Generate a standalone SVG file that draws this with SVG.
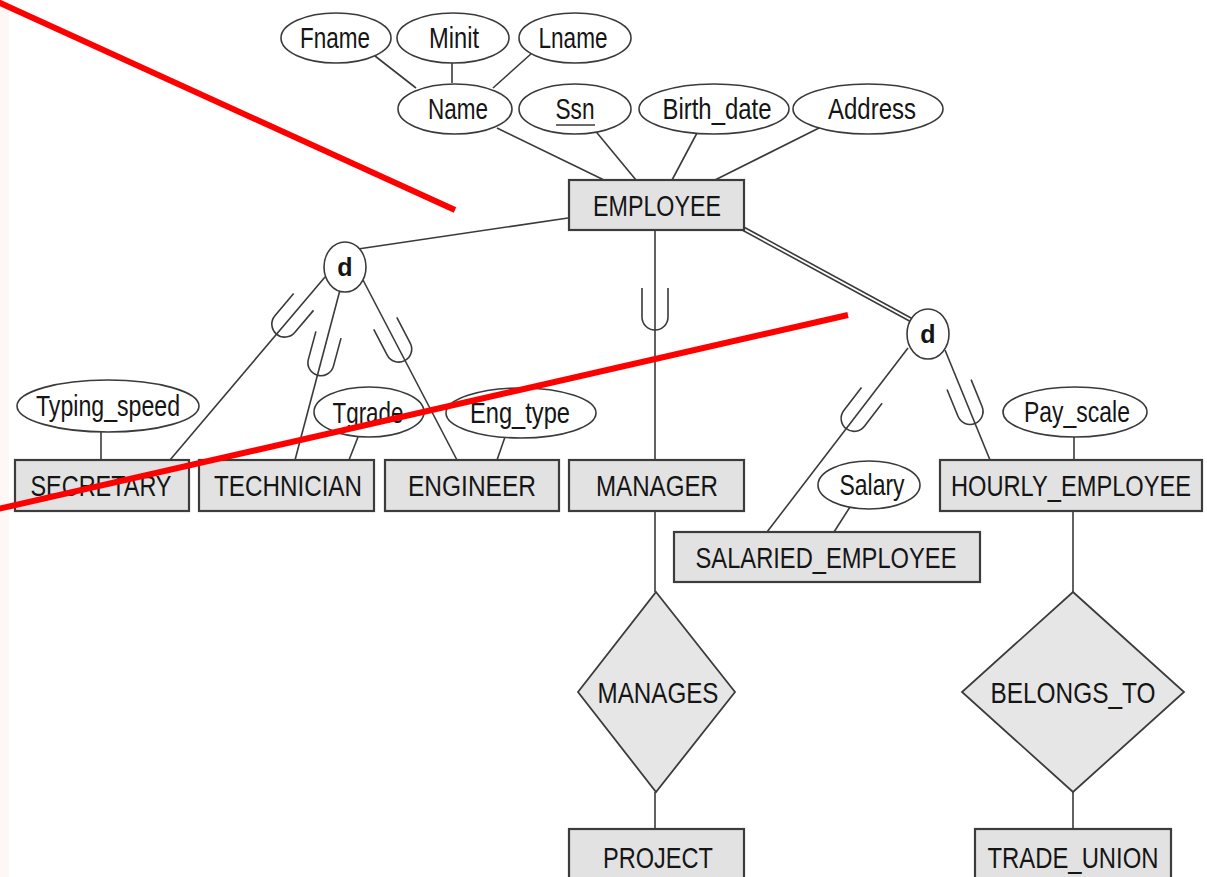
<svg xmlns="http://www.w3.org/2000/svg" xmlns:xlink="http://www.w3.org/1999/xlink" width="1207" height="877" viewBox="0 0 1207 877">
  <style>
    .bg { fill: #ffffff; }
    .edge { fill: #fdf7f5; }
    .ln { stroke: #3a3a3a; stroke-width: 1.6; fill: none; }
    .attr { fill: #ffffff; stroke: #3a3a3a; stroke-width: 1.6; }
    .ent { fill: #e2e2e2; stroke: #3c3c3c; stroke-width: 2.2; }
    .rel { fill: #e6e6e6; stroke: #3c3c3c; stroke-width: 1.8; }
    .circ { fill: #ffffff; stroke: #3a3a3a; stroke-width: 1.6; }
    .t { font-family: "Liberation Sans", Arial, sans-serif; font-size: 29px; fill: #151515; text-anchor: middle; }
    .d { font-family: "Liberation Sans", Arial, sans-serif; font-size: 25px; font-weight: bold; fill: #151515; text-anchor: middle; }
    .mark { stroke: #ff0000; stroke-width: 6; fill: none; }
  </style>
  <defs>
    <!-- subset symbol, opening toward the superclass (local -y) -->
    <path id="subset" d="M-13,-21 V8 A13,13 0 0 0 13,8 V-21" fill="none" stroke="#3a3a3a" stroke-width="1.6"/>
  </defs>

  <rect class="bg" x="0" y="0" width="1207" height="877"/>
  <rect class="edge" x="0" y="0" width="9" height="877"/>

  <!-- connectors -->
  <g id="connectors">
    <!-- composite attribute Name -->
    <line class="ln" x1="375" y1="56" x2="416" y2="88"/>
    <line class="ln" x1="452" y1="61" x2="452" y2="83"/>
    <line class="ln" x1="532" y1="53" x2="493" y2="88"/>
    <!-- EMPLOYEE attributes -->
    <line class="ln" x1="497" y1="128" x2="604" y2="180"/>
    <line class="ln" x1="593" y1="128" x2="636" y2="180"/>
    <line class="ln" x1="697" y1="133" x2="672" y2="180"/>
    <line class="ln" x1="821" y1="127" x2="715" y2="180"/>
    <!-- EMPLOYEE to left specialization -->
    <line class="ln" x1="568" y1="218" x2="358" y2="249"/>
    <!-- left specialization branches -->
    <line class="ln" x1="325" y1="277" x2="170" y2="460"/>
    <line class="ln" x1="340" y1="290" x2="295" y2="460"/>
    <line class="ln" x1="363" y1="280" x2="457" y2="460"/>
    <use xlink:href="#subset" transform="translate(290,318) rotate(40.3)"/>
    <use xlink:href="#subset" transform="translate(323,355) rotate(15.1)"/>
    <use xlink:href="#subset" transform="translate(395,342) rotate(-27.6)"/>
    <!-- MANAGER subclass -->
    <line class="ln" x1="655" y1="230" x2="655" y2="460"/>
    <use xlink:href="#subset" transform="translate(655,309)"/>
    <!-- total participation (double line) to right specialization -->
    <line x1="742" y1="228" x2="913" y2="321" stroke="#3a3a3a" stroke-width="5"/>
    <line x1="742" y1="228" x2="913" y2="321" stroke="#ffffff" stroke-width="1.8"/>
    <!-- right specialization branches -->
    <line class="ln" x1="908" y1="348" x2="767" y2="532"/>
    <line class="ln" x1="945" y1="350" x2="990" y2="460"/>
    <use xlink:href="#subset" transform="translate(859,412) rotate(37.5)"/>
    <use xlink:href="#subset" transform="translate(967,404) rotate(-22.2)"/>
    <!-- local attributes -->
    <line class="ln" x1="101" y1="432" x2="101" y2="460"/>
    <line class="ln" x1="358" y1="437" x2="349" y2="460"/>
    <line class="ln" x1="505" y1="437" x2="497" y2="460"/>
    <line class="ln" x1="1074" y1="437" x2="1074" y2="460"/>
    <line class="ln" x1="850" y1="507" x2="834" y2="532"/>
    <!-- relationships -->
    <line class="ln" x1="655" y1="511" x2="655" y2="592"/>
    <line class="ln" x1="655" y1="792" x2="655" y2="829"/>
    <line class="ln" x1="1073" y1="511" x2="1073" y2="592"/>
    <line class="ln" x1="1073" y1="792" x2="1073" y2="829"/>
  </g>

  <!-- attributes -->
  <g id="attr-fname"><ellipse class="attr" cx="336" cy="38" rx="55" ry="25"/><text class="t" x="335" y="48" textLength="70" lengthAdjust="spacingAndGlyphs">Fname</text></g>
  <g id="attr-minit"><ellipse class="attr" cx="453" cy="38" rx="56" ry="25"/><text class="t" x="454" y="48" textLength="50" lengthAdjust="spacingAndGlyphs">Minit</text></g>
  <g id="attr-lname"><ellipse class="attr" cx="575" cy="38" rx="56" ry="25"/><text class="t" x="573" y="48" textLength="69" lengthAdjust="spacingAndGlyphs">Lname</text></g>
  <g id="attr-name"><ellipse class="attr" cx="455" cy="109" rx="57" ry="25"/><text class="t" x="458" y="119" textLength="60" lengthAdjust="spacingAndGlyphs">Name</text></g>
  <g id="attr-ssn"><ellipse class="attr" cx="575" cy="109" rx="56" ry="25"/><text class="t" x="575" y="119" textLength="39" lengthAdjust="spacingAndGlyphs">Ssn</text><line class="ln" x1="556" y1="125" x2="595" y2="125"/></g>
  <g id="attr-birth"><ellipse class="attr" cx="714" cy="109" rx="75" ry="25"/><text class="t" x="717" y="119" textLength="109" lengthAdjust="spacingAndGlyphs">Birth_date</text></g>
  <g id="attr-address"><ellipse class="attr" cx="868" cy="109" rx="75" ry="25"/><text class="t" x="872" y="119" textLength="88" lengthAdjust="spacingAndGlyphs">Address</text></g>
  <g id="attr-typing"><ellipse class="attr" cx="108" cy="406" rx="91" ry="26"/><text class="t" x="108" y="416" textLength="144" lengthAdjust="spacingAndGlyphs">Typing_speed</text></g>
  <g id="attr-tgrade"><ellipse class="attr" cx="369" cy="412" rx="55" ry="25"/><text class="t" x="368" y="423" textLength="71" lengthAdjust="spacingAndGlyphs">Tgrade</text></g>
  <g id="attr-engtype"><ellipse class="attr" cx="521" cy="413" rx="75" ry="25"/><text class="t" x="520" y="423" textLength="100" lengthAdjust="spacingAndGlyphs">Eng_type</text></g>
  <g id="attr-payscale"><ellipse class="attr" cx="1075" cy="412" rx="72" ry="25"/><text class="t" x="1077" y="422" textLength="106" lengthAdjust="spacingAndGlyphs">Pay_scale</text></g>
  <g id="attr-salary"><ellipse class="attr" cx="869" cy="485" rx="51" ry="24"/><text class="t" x="872" y="495" textLength="65" lengthAdjust="spacingAndGlyphs">Salary</text></g>

  <!-- entities -->
  <g id="ent-employee"><rect class="ent" x="569" y="180" width="175" height="50"/><text class="t" x="657" y="216" textLength="128" lengthAdjust="spacingAndGlyphs">EMPLOYEE</text></g>
  <g id="ent-secretary"><rect class="ent" x="15" y="460" width="174" height="51"/><text class="t" x="101" y="496" textLength="141" lengthAdjust="spacingAndGlyphs">SECRETARY</text></g>
  <g id="ent-technician"><rect class="ent" x="199" y="460" width="175" height="51"/><text class="t" x="288" y="496" textLength="148" lengthAdjust="spacingAndGlyphs">TECHNICIAN</text></g>
  <g id="ent-engineer"><rect class="ent" x="385" y="460" width="174" height="51"/><text class="t" x="472" y="496" textLength="128" lengthAdjust="spacingAndGlyphs">ENGINEER</text></g>
  <g id="ent-manager"><rect class="ent" x="569" y="460" width="175" height="51"/><text class="t" x="657" y="496" textLength="122" lengthAdjust="spacingAndGlyphs">MANAGER</text></g>
  <g id="ent-hourly"><rect class="ent" x="940" y="460" width="262" height="51"/><text class="t" x="1071" y="496" textLength="240" lengthAdjust="spacingAndGlyphs">HOURLY_EMPLOYEE</text></g>
  <g id="ent-salaried"><rect class="ent" x="674" y="532" width="306" height="50"/><text class="t" x="826" y="568" textLength="261" lengthAdjust="spacingAndGlyphs">SALARIED_EMPLOYEE</text></g>
  <g id="ent-project"><rect class="ent" x="569" y="829" width="175" height="60"/><text class="t" x="658" y="868" textLength="110" lengthAdjust="spacingAndGlyphs">PROJECT</text></g>
  <g id="ent-tradeunion"><rect class="ent" x="975" y="829" width="196" height="60"/><text class="t" x="1073" y="868" textLength="171" lengthAdjust="spacingAndGlyphs">TRADE_UNION</text></g>

  <!-- relationships -->
  <g id="rel-manages"><polygon class="rel" points="656,592 735,692 656,792 578,692"/><text class="t" x="658" y="703" textLength="121" lengthAdjust="spacingAndGlyphs">MANAGES</text></g>
  <g id="rel-belongs"><polygon class="rel" points="1073,592 1184,692 1073,792 962,692"/><text class="t" x="1073" y="703" textLength="165" lengthAdjust="spacingAndGlyphs">BELONGS_TO</text></g>

  <!-- specialization circles -->
  <g id="spec-left"><ellipse class="circ" cx="345" cy="267" rx="21" ry="25"/><text class="d" x="345" y="276">d</text></g>
  <g id="spec-right"><ellipse class="circ" cx="928" cy="334" rx="21" ry="25"/><text class="d" x="928" y="343">d</text></g>

  <!-- red strike-through marks -->
  <g id="annotations">
    <line class="mark" x1="-2" y1="2" x2="455" y2="210"/>
    <line class="mark" x1="-2" y1="509" x2="848" y2="315"/>
  </g>
</svg>
